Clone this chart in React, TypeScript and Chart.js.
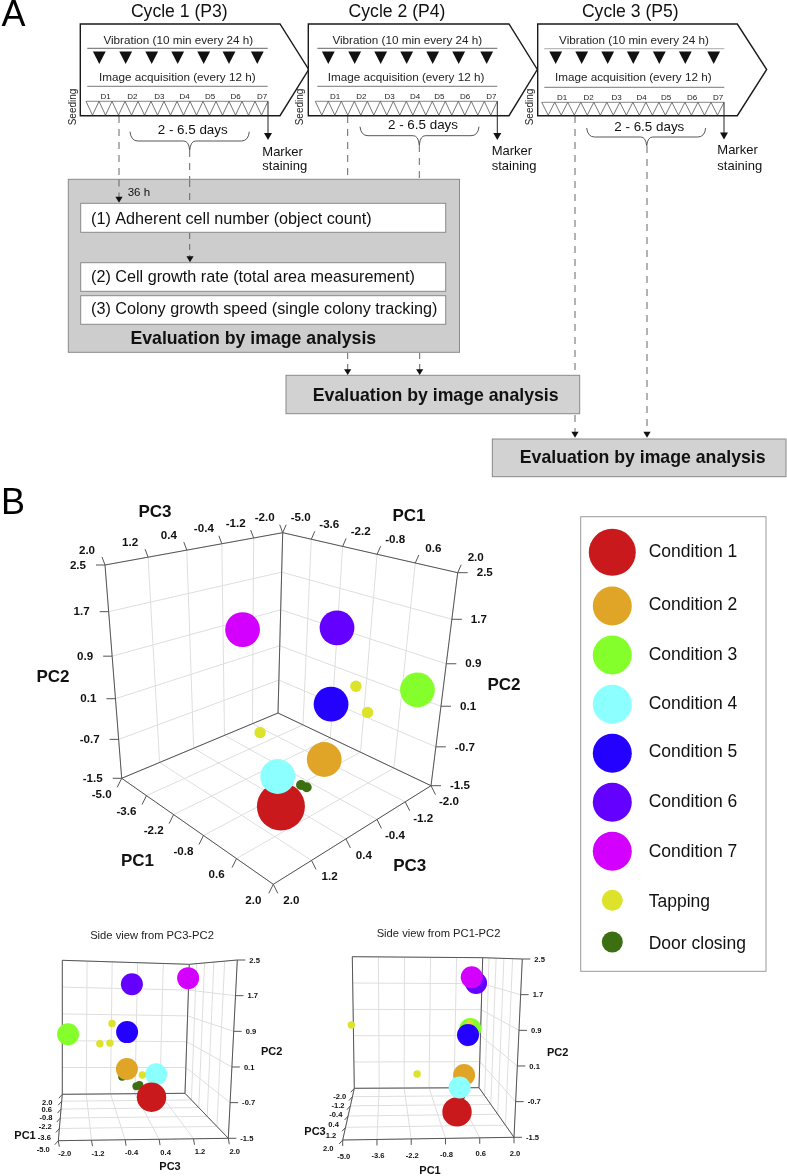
import React, { useEffect, useRef } from "react";
import { Chart, registerables } from "chart.js";

Chart.register(...registerables);

// ---------- data ----------
const conditionNames = ["Condition 1", "Condition 2", "Condition 3", "Condition 4", "Condition 5", "Condition 6", "Condition 7"];
const conditionColors = ["#C9191C", "#E0A526", "#85FF2B", "#8CFFFF", "#2400FF", "#6300FF", "#D400FF"];
const conditionPC1 = [0.0, 0.5, 1.36, 0.06, 0.64, 0.9, 0.21];
const conditionPC2 = [-1.32, -0.58, 0.34, -0.68, 0.47, 1.85, 2.07];
const conditionPC3 = [0.73, 0.02, -1.8, 0.86, 0.02, 0.16, 1.72];

const tappingName = "Tapping";
const tappingColor = "#DDE22A";
const tappingPC1 = [0.86, 0.86, -1.76, -4.9];
const tappingPC2 = [0.7, 0.11, -0.48, 0.62];
const tappingPC3 = [-0.43, -0.8, 0.29, -0.72];

const doorName = "Door closing";
const doorColor = "#3C6E12";
const doorPC1 = [0.2, 0.3, 0.52];
const doorPC2 = [-1.0, -1.05, -0.8];
const doorPC3 = [0.38, 0.3, -0.12];

const pc1Ticks = [-5.0, -3.6, -2.2, -0.8, 0.6, 2.0];
const pc2Ticks = [-1.5, -0.7, 0.1, 0.9, 1.7, 2.5];
const pc3Ticks = [-2.0, -1.2, -0.4, 0.4, 1.2, 2.0];

const cycleTitles = ["Cycle 1 (P3)", "Cycle 2 (P4)", "Cycle 3 (P5)"];
const dayLabels = ["D1", "D2", "D3", "D4", "D5", "D6", "D7"];
const analysisSteps = [
  "(1) Adherent cell number (object count)",
  "(2) Cell growth rate (total area measurement)",
  "(3) Colony growth speed (single colony tracking)",
];

// ---------- projection of the 3D box ----------
type P = [number, number];
type View = {
  floor: P[][]; // [pc1 index][pc3 index]
  top: P[][];
  k1: number;
  k2: number;
  k3: number;
  depth: (a: number, c: number) => number;
  rBig: number;
  rMid: number;
  rTap: number;
  rDoor: number;
};
const warp = (t: number, k: number) => t / (t + k * (1 - t));
const mix = (a: P, b: P, t: number): P => [a[0] + (b[0] - a[0]) * t, a[1] + (b[1] - a[1]) * t];

const mainView: View = {
  floor: [[[278, 713], [121.7, 778.3]], [[431, 785.7], [273.3, 884.3]]],
  top: [[[282.7, 532.7], [105, 565]], [[457.7, 572.7], [281, 622]]],
  k1: 1.28, k2: 1.12, k3: 1.28,
  depth: (a, c) => a + c,
  rBig: 24, rMid: 17.4, rTap: 5.7, rDoor: 5,
};
const sideView13: View = {
  floor: [[[58.3, 1140.7], [228.3, 1138.3]], [[62.3, 1094.3], [185, 1093.3]]],
  top: [[[50, 957], [237.3, 960]], [[62.3, 960.3], [189.3, 964.3]]],
  k1: 0.7, k2: 1, k3: 1.03,
  depth: (a) => -a,
  rBig: 14.7, rMid: 11, rTap: 3.7, rDoor: 4,
};
const sideView12: View = {
  floor: [[[354.3, 1088.3], [342.7, 1140]], [[479, 1087.7], [514, 1137.3]]],
  top: [[[352.3, 956.7], [335, 957]], [[482.7, 957.7], [522.3, 959]]],
  k1: 1, k2: 1, k3: 1.3,
  depth: (_a, c) => c,
  rBig: 14.7, rMid: 11, rTap: 3.7, rDoor: 4,
};

function project(v: View, a: number, b: number, c: number): P {
  const w1 = warp((a + 5) / 7, v.k1);
  const w2 = warp((b + 1.5) / 4, v.k2);
  const w3 = warp((c + 2) / 4, v.k3);
  const f = mix(mix(v.floor[0][0], v.floor[0][1], w3), mix(v.floor[1][0], v.floor[1][1], w3), w1);
  const t = mix(mix(v.top[0][0], v.top[0][1], w3), mix(v.top[1][0], v.top[1][1], w3), w1);
  return mix(f, t, w2);
}

function viewDataset(v: View) {
  const marks: any[] = [];
  conditionPC1.forEach((_, i) =>
    marks.push({ a: conditionPC1[i], b: conditionPC2[i], c: conditionPC3[i], r: i === 0 ? v.rBig : v.rMid, col: conditionColors[i] })
  );
  tappingPC1.forEach((_, i) =>
    marks.push({ a: tappingPC1[i], b: tappingPC2[i], c: tappingPC3[i], r: v.rTap, col: tappingColor })
  );
  doorPC1.forEach((_, i) =>
    marks.push({ a: doorPC1[i], b: doorPC2[i], c: doorPC3[i], r: v.rDoor, col: doorColor })
  );
  marks.sort((m, n) => v.depth(m.a, m.c) - v.depth(n.a, n.c));
  return {
    data: marks.map((m) => {
      const [x, y] = project(v, m.a, m.b, m.c);
      return { x, y, r: m.r };
    }),
    backgroundColor: marks.map((m) => m.col),
    borderWidth: 0,
    clip: false as any,
  };
}

// ---------- drawing helpers ----------
const SANS = '"Liberation Sans", Arial, sans-serif';
type Ctx = CanvasRenderingContext2D;

function text(ctx: Ctx, s: string, x: number, y: number, font: string, align: CanvasTextAlign = "center", color = "#111") {
  ctx.font = font;
  ctx.textAlign = align;
  ctx.textBaseline = "middle";
  ctx.fillStyle = color;
  ctx.fillText(s, x, y + 0.5);
}
function line(ctx: Ctx, a: P, b: P, color = "#555", w = 1, dash: number[] = []) {
  ctx.beginPath();
  ctx.setLineDash(dash);
  ctx.strokeStyle = color;
  ctx.lineWidth = w;
  ctx.moveTo(a[0], a[1]);
  ctx.lineTo(b[0], b[1]);
  ctx.stroke();
  ctx.setLineDash([]);
}
function downArrow(ctx: Ctx, x: number, tip: number, h = 6, hw = 3.8) {
  ctx.beginPath();
  ctx.fillStyle = "#111";
  ctx.moveTo(x - hw, tip - h);
  ctx.lineTo(x + hw, tip - h);
  ctx.lineTo(x, tip);
  ctx.closePath();
  ctx.fill();
}
function box(ctx: Ctx, x1: number, y1: number, x2: number, y2: number, fill: string, stroke = "#8a8a8a") {
  ctx.fillStyle = fill;
  ctx.fillRect(x1, y1, x2 - x1, y2 - y1);
  ctx.strokeStyle = stroke;
  ctx.lineWidth = 1;
  ctx.strokeRect(x1, y1, x2 - x1, y2 - y1);
}
const DASH = [7, 6];
const DASHC = "#666";

const cycles = [
  {
    left: 80.3, shoulder: 280, tip: 308.7, titleX: 179.3, vibX: 178.3, vibY: 40, ruleX: [87.3, 267.7], rule1: 48.3, rule2: 86.3, imgX: 177.3, imgY: 77,
    tri: [99.3, 125.7, 151.7, 177.7, 203.7, 229, 257.3],
    days: [105.7, 132.3, 159.3, 184.7, 210, 235.7, 262], dayY: 96.3,
    strip: [86, 268], stripTop: 101.3, seedX: 72.7, brace: [130, 249.3, 131.7, 141, 189.7, 150], braceText: [192.7, 130], markX: 262.3, markY: [151.7, 166.3], arrowTip: 140,
  },
  {
    left: 308.3, shoulder: 509, tip: 537.3, titleX: 397, vibX: 407.3, vibY: 40, ruleX: [317.3, 497.3], rule1: 48.3, rule2: 86.3, imgX: 406, imgY: 77,
    tri: [328.3, 354.7, 380.7, 406.7, 432.7, 458.7, 486.7],
    days: [335, 361.3, 389.7, 415, 439.3, 465, 491.3], dayY: 96.3,
    strip: [315.3, 497.3], stripTop: 101.3, seedX: 300, brace: [360, 479, 126.7, 135.7, 419.3, 145], braceText: [423, 125.3], markX: 491.7, markY: [151, 166], arrowTip: 140,
  },
  {
    left: 537.7, shoulder: 737.3, tip: 766.7, titleX: 630.3, vibX: 634, vibY: 40.7, ruleX: [544.3, 724.3], rule1: 48.7, rule2: 87.3, imgX: 633.3, imgY: 77.7,
    tri: [555.7, 581.7, 607.7, 633.3, 659.3, 685.3, 713.7],
    days: [562, 588.7, 616.7, 641.7, 666, 692, 718], dayY: 97,
    strip: [541.7, 724], stripTop: 102.3, seedX: 529.3, brace: [586.7, 705.7, 128, 137, 646.7, 145.7], braceText: [649.3, 126.7], markX: 717.3, markY: [150.3, 165.7], arrowTip: 139.5,
  },
];

function drawFlow(ctx: Ctx) {
  text(ctx, "A", 1.5, 16, `36px ${SANS}`, "left", "#000");
  text(ctx, "B", 1, 504, `36px ${SANS}`, "left", "#000");

  // dashed lines that lie under the boxes
  line(ctx, [119, 116], [119, 197], DASHC, 1, DASH);
  line(ctx, [189.7, 150], [189.7, 204], DASHC, 1, DASH);
  line(ctx, [189.7, 232], [189.7, 257], DASHC, 1, DASH);
  line(ctx, [347.7, 116], [347.7, 180], DASHC, 1, DASH);
  line(ctx, [419.3, 145], [419.3, 180], DASHC, 1, DASH);
  line(ctx, [347.7, 353], [347.7, 370], DASHC, 1, [6, 5]);
  line(ctx, [419.7, 353], [419.7, 370], DASHC, 1, [6, 5]);
  line(ctx, [575, 116], [575, 432], DASHC, 1, DASH);
  line(ctx, [647, 146], [647, 432], DASHC, 1, DASH);

  cycles.forEach((c, i) => {
    ctx.beginPath();
    ctx.moveTo(c.left, 24);
    ctx.lineTo(c.shoulder, 24);
    ctx.lineTo(c.tip, 69.5);
    ctx.lineTo(c.shoulder, 115.7);
    ctx.lineTo(c.left, 115.7);
    ctx.closePath();
    ctx.fillStyle = "#fff";
    ctx.fill();
    ctx.strokeStyle = "#1a1a1a";
    ctx.lineWidth = 1.4;
    ctx.stroke();

    text(ctx, cycleTitles[i], c.titleX, 11.5, `17.6px ${SANS}`);
    text(ctx, "Vibration (10 min every 24 h)", c.vibX, c.vibY, `11.7px ${SANS}`, "center", "#222");
    line(ctx, [c.ruleX[0], c.rule1], [c.ruleX[1], c.rule1], i === 2 ? "#aaa" : "#666", 1);
    c.tri.forEach((x) => downArrow(ctx, x, 64, 12.5, 6.4));
    text(ctx, "Image acquisition (every 12 h)", c.imgX, c.imgY, `11.7px ${SANS}`, "center", "#222");
    line(ctx, [c.ruleX[0], c.rule2], [c.ruleX[1], c.rule2], "#777", 1);
    dayLabels.forEach((d, k) => text(ctx, d, c.days[k], c.dayY, `8px ${SANS}`, "center", "#222"));

    // time strip: one tooth per 12 h image interval
    const [s0, s1] = c.strip;
    line(ctx, [s0, c.stripTop], [s1, c.stripTop], "#888", 1);
    ctx.beginPath();
    const w = (s1 - s0) / 14;
    ctx.moveTo(s0, c.stripTop);
    for (let t = 0; t < 14; t++) {
      ctx.lineTo(s0 + w * (t + 0.5), 115.2);
      ctx.lineTo(s0 + w * (t + 1), c.stripTop);
    }
    ctx.strokeStyle = "#555";
    ctx.lineWidth = 0.8;
    ctx.stroke();

    // seeding
    ctx.save();
    ctx.translate(c.seedX, 107);
    ctx.rotate(-Math.PI / 2);
    text(ctx, "Seeding", 0, 0, `10px ${SANS}`, "center", "#222");
    ctx.restore();

    // brace
    const [bx1, bx2, by1, by2, tx, ty] = c.brace;
    ctx.beginPath();
    ctx.moveTo(bx1, by1);
    ctx.quadraticCurveTo(bx1 + 1, by2, bx1 + 8, by2);
    ctx.lineTo(tx - 6, by2);
    ctx.quadraticCurveTo(tx - 1, by2, tx, ty);
    ctx.quadraticCurveTo(tx + 1, by2, tx + 6, by2);
    ctx.lineTo(bx2 - 8, by2);
    ctx.quadraticCurveTo(bx2 - 1, by2, bx2, by1);
    ctx.strokeStyle = "#444";
    ctx.lineWidth = 0.9;
    ctx.stroke();
    text(ctx, "2 - 6.5 days", c.braceText[0], c.braceText[1], `13.4px ${SANS}`);

    // marker staining
    line(ctx, [s1, c.stripTop], [s1, c.arrowTip - 5], "#222", 1);
    downArrow(ctx, s1, c.arrowTip, 7, 4);
    text(ctx, "Marker", c.markX, c.markY[0], `13px ${SANS}`, "left");
    text(ctx, "staining", c.markX, c.markY[1], `13px ${SANS}`, "left");
  });

  // big grey panel
  box(ctx, 68.3, 179.3, 459.5, 352.3, "#cdcdcd");
  line(ctx, [119, 179.5], [119, 197], DASHC, 1, DASH);
  line(ctx, [189.7, 180], [189.7, 204], DASHC, 1, DASH);
  downArrow(ctx, 119, 202.7, 6, 3.6);
  text(ctx, "36 h", 127.7, 192.7, `11.5px ${SANS}`, "left");
  box(ctx, 80.7, 203.3, 445.7, 232.3, "#fff");
  line(ctx, [189.7, 233], [189.7, 257], DASHC, 1, [6, 5]);
  downArrow(ctx, 190, 262.3, 6, 3.6);
  box(ctx, 80.7, 262.7, 445.7, 291.3, "#fff");
  box(ctx, 80.7, 295.7, 445.7, 324.3, "#fff");
  text(ctx, analysisSteps[0], 91, 219, `16.2px ${SANS}`, "left");
  text(ctx, analysisSteps[1], 91, 277.3, `16.2px ${SANS}`, "left");
  text(ctx, analysisSteps[2], 91, 309.3, `16.2px ${SANS}`, "left");
  text(ctx, "Evaluation by image analysis", 253.3, 339, `bold 17.7px ${SANS}`);

  // second and third panels
  box(ctx, 286, 375.3, 579.7, 413.7, "#d2d2d2");
  text(ctx, "Evaluation by image analysis", 435.7, 395.5, `bold 17.7px ${SANS}`);
  downArrow(ctx, 347.7, 375, 5.7, 3.6);
  downArrow(ctx, 419.7, 375, 5.7, 3.6);
  box(ctx, 492.3, 439, 786, 476.7, "#d2d2d2");
  text(ctx, "Evaluation by image analysis", 642.7, 458, `bold 17.7px ${SANS}`);
  downArrow(ctx, 575, 437.7, 6, 3.6);
  downArrow(ctx, 647, 437.7, 6, 3.6);
}

const GRID = "#dedede";
const EDGE = "#555";

type LabelSpec = { dx: number; dy: number; tx: number; ty: number };

function drawBox(
  chart: any,
  v: View,
  spec: {
    wallA: number; // pc1 of the side wall that is drawn
    wallC: number; // pc3 of the back wall that is drawn
    frontA: number; // pc1 value of the floor edge opposite wallA
    frontC: number; // pc3 value of the floor edge opposite wallC
    font: string;
    pc1Edge: number; pc1Spec: LabelSpec;   // floor edge carrying the pc1 labels (pc3 value)
    pc3Edge: number; pc3Spec: LabelSpec;   // floor edge carrying the pc3 labels (pc1 value)
    pc2Edges: { a: number; c: number; dir: number; tick: number; off: number }[];
    topPc1?: LabelSpec; topPc3?: LabelSpec;
    names: { s: string; x: number; y: number }[];
    nameFont: string;
  }
) {
  const ctx: Ctx = chart.ctx;
  const sx = chart.scales.x;
  const sy = chart.scales.y;
  const pt = (a: number, b: number, c: number): P => {
    const [x, y] = project(v, a, b, c);
    return [sx.getPixelForValue(x), sy.getPixelForValue(y)];
  };
  const lo = -1.5, hi = 2.5;
  const { wallA, wallC, frontA, frontC } = spec;

  // grid on the two walls and on the floor
  pc1Ticks.forEach((a) => {
    line(ctx, pt(a, lo, wallC), pt(a, hi, wallC), GRID, 1);
    line(ctx, pt(a, lo, wallC), pt(a, lo, frontC), GRID, 1);
  });
  pc3Ticks.forEach((c) => {
    line(ctx, pt(wallA, lo, c), pt(wallA, hi, c), GRID, 1);
    line(ctx, pt(wallA, lo, c), pt(frontA, lo, c), GRID, 1);
  });
  pc2Ticks.forEach((b) => {
    line(ctx, pt(wallA, b, wallC), pt(wallA, b, frontC), GRID, 1);
    line(ctx, pt(wallA, b, wallC), pt(frontA, b, wallC), GRID, 1);
  });

  // box edges
  const E = (p: P, q: P) => line(ctx, p, q, EDGE, 1);
  E(pt(wallA, lo, wallC), pt(wallA, lo, frontC));
  E(pt(wallA, lo, wallC), pt(frontA, lo, wallC));
  E(pt(wallA, lo, frontC), pt(frontA, lo, frontC));
  E(pt(frontA, lo, wallC), pt(frontA, lo, frontC));
  E(pt(wallA, lo, wallC), pt(wallA, hi, wallC));
  E(pt(wallA, lo, frontC), pt(wallA, hi, frontC));
  E(pt(frontA, lo, wallC), pt(frontA, hi, wallC));
  E(pt(wallA, hi, wallC), pt(wallA, hi, frontC));
  E(pt(wallA, hi, wallC), pt(frontA, hi, wallC));

  // ticks and labels
  const fmt = (n: number) => n.toFixed(1);
  pc1Ticks.forEach((a) => {
    const p = pt(a, lo, spec.pc1Edge);
    const s = spec.pc1Spec;
    line(ctx, p, [p[0] + s.tx, p[1] + s.ty], EDGE, 1);
    text(ctx, fmt(a), p[0] + s.dx, p[1] + s.dy, spec.font);
    if (spec.topPc1) {
      const q = pt(a, hi, wallC);
      const u = spec.topPc1;
      line(ctx, q, [q[0] + u.tx, q[1] + u.ty], EDGE, 1);
      text(ctx, fmt(a), q[0] + u.dx, q[1] + u.dy, spec.font);
    }
  });
  pc3Ticks.forEach((c) => {
    const p = pt(spec.pc3Edge, lo, c);
    const s = spec.pc3Spec;
    line(ctx, p, [p[0] + s.tx, p[1] + s.ty], EDGE, 1);
    text(ctx, fmt(c), p[0] + s.dx, p[1] + s.dy, spec.font);
    if (spec.topPc3) {
      const q = pt(wallA, hi, c);
      const u = spec.topPc3;
      line(ctx, q, [q[0] + u.tx, q[1] + u.ty], EDGE, 1);
      text(ctx, fmt(c), q[0] + u.dx, q[1] + u.dy, spec.font);
    }
  });
  spec.pc2Edges.forEach((e) => {
    pc2Ticks.forEach((b) => {
      const p = pt(e.a, b, e.c);
      line(ctx, p, [p[0] + e.dir * e.tick, p[1]], EDGE, 1);
      text(ctx, fmt(b), p[0] + e.dir * e.off, p[1], spec.font, e.dir > 0 ? "left" : "right");
    });
  });
  spec.names.forEach((n) => text(ctx, n.s, n.x, n.y, spec.nameFont, "center", "#111"));
}

function drawLegend(ctx: Ctx) {
  box(ctx, 580.7, 516.7, 766, 971.3, "#fff", "#9a9a9a");
  const ys = [552.3, 606, 655, 704.3, 753.3, 802.3, 851.3];
  const tys = [551.7, 605, 654.3, 703.3, 751.7, 801.7, 851.7];
  conditionNames.forEach((n, i) => {
    ctx.beginPath();
    ctx.fillStyle = conditionColors[i];
    ctx.arc(612.3, ys[i], i === 0 ? 23.5 : 19.5, 0, Math.PI * 2);
    ctx.fill();
    text(ctx, n, 648.7, tys[i], `17.5px ${SANS}`, "left");
  });
  ctx.beginPath();
  ctx.fillStyle = tappingColor;
  ctx.arc(612.3, 900.3, 10.5, 0, Math.PI * 2);
  ctx.fill();
  text(ctx, tappingName, 648.7, 902, `17.5px ${SANS}`, "left");
  ctx.beginPath();
  ctx.fillStyle = doorColor;
  ctx.arc(612.3, 942, 10.5, 0, Math.PI * 2);
  ctx.fill();
  text(ctx, doorName, 648.7, 944, `17.5px ${SANS}`, "left");
}

const backdrop = {
  id: "backdrop",
  beforeDatasetsDraw(chart: any) {
    const ctx: Ctx = chart.ctx;
    ctx.save();
    drawFlow(ctx);
    drawLegend(ctx);

    drawBox(chart, mainView, {
      wallA: -5, wallC: -2, frontA: 2, frontC: 2,
      font: `bold 11.6px ${SANS}`,
      pc1Edge: 2, pc1Spec: { dx: -20, dy: 15.5, tx: -4.5, ty: 9 },
      pc3Edge: 2, pc3Spec: { dx: 18, dy: 16, tx: 4.5, ty: 9 },
      pc2Edges: [
        { a: -5, c: 2, dir: -1, tick: 9, off: 19 },
        { a: 2, c: -2, dir: 1, tick: 10, off: 19 },
      ],
      topPc1: { dx: 18, dy: -15, tx: 3.5, ty: -8 },
      topPc3: { dx: -18, dy: -15, tx: -3, ty: -8 },
      names: [
        { s: "PC3", x: 155, y: 512 },
        { s: "PC1", x: 409, y: 516 },
        { s: "PC2", x: 53, y: 677 },
        { s: "PC2", x: 504, y: 685 },
        { s: "PC1", x: 137.5, y: 861 },
        { s: "PC3", x: 409.7, y: 866 },
      ],
      nameFont: `bold 17px ${SANS}`,
    });

    text(ctx, "Side view from PC3-PC2", 152, 935, `11.2px ${SANS}`, "center", "#222");
    drawBox(chart, sideView13, {
      wallA: 2, wallC: 2, frontA: -5, frontC: -2,
      font: `bold 7.6px ${SANS}`,
      pc1Edge: -2, pc1Spec: { dx: -15, dy: 8.5, tx: -3.5, ty: 4 },
      pc3Edge: -5, pc3Spec: { dx: 6.5, dy: 13, tx: 1, ty: 6 },
      pc2Edges: [{ a: -5, c: 2, dir: 1, tick: 8, off: 12 }],
      names: [
        { s: "PC2", x: 271.7, y: 1051.7 },
        { s: "PC1", x: 25, y: 1135 },
        { s: "PC3", x: 170, y: 1166 },
      ],
      nameFont: `bold 11px ${SANS}`,
    });

    text(ctx, "Side view from PC1-PC2", 438.5, 933, `11.2px ${SANS}`, "center", "#222");
    drawBox(chart, sideView12, {
      wallA: 2, wallC: -2, frontA: -5, frontC: 2,
      font: `bold 7.6px ${SANS}`,
      pc1Edge: 2, pc1Spec: { dx: 1, dy: 16, tx: 0, ty: 6 },
      pc3Edge: -5, pc3Spec: { dx: -14.5, dy: 8.5, tx: -3.5, ty: 4 },
      pc2Edges: [{ a: 2, c: 2, dir: 1, tick: 8, off: 12 }],
      names: [
        { s: "PC2", x: 557.7, y: 1052.7 },
        { s: "PC3", x: 315, y: 1131 },
        { s: "PC1", x: 430, y: 1170.7 },
      ],
      nameFont: `bold 11px ${SANS}`,
    });
    ctx.restore();
  },
};

export default function App() {
  const ref = useRef<HTMLCanvasElement | null>(null);
  useEffect(() => {
    if (!ref.current) return;
    document.body.style.background = "#fff";
    const chart = new Chart(ref.current, {
      type: "bubble",
      data: { datasets: [viewDataset(mainView), viewDataset(sideView13), viewDataset(sideView12)] as any },
      options: {
        responsive: false,
        animation: false,
        events: [],
        layout: { padding: 0, autoPadding: false },
        plugins: { legend: { display: false }, tooltip: { enabled: false } },
        scales: {
          x: { type: "linear", display: false, min: 0, max: 787 },
          y: { type: "linear", display: false, min: 0, max: 1176, reverse: true },
        },
      },
      plugins: [backdrop],
    });
    return () => chart.destroy();
  }, []);
  return (
    <div style={{ position: "absolute", left: 0, top: 0, width: 787, height: 1176, background: "#fff" }}>
      <canvas ref={ref} width={787} height={1176} style={{ display: "block" }} />
    </div>
  );
}
